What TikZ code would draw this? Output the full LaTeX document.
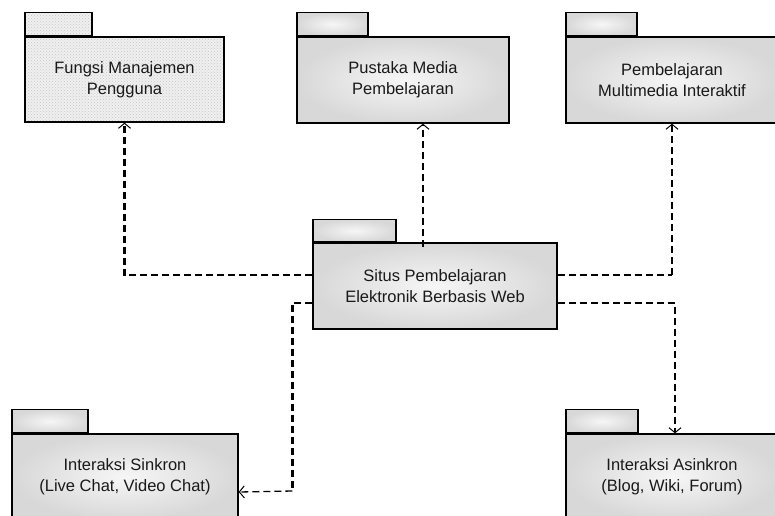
\documentclass[tikz,border=0pt]{standalone}
\usepackage{fontspec}
\setmainfont{Liberation Sans}
\usetikzlibrary{calc,positioning,arrows.meta,patterns,shapes}
\definecolor{pkgedge}{HTML}{d8d8d8}
\definecolor{pkgmid}{HTML}{f6f6f6}

\begin{document}
\begin{tikzpicture}[x=1pt,y=-1pt,
    pkgbase/.style={draw=black,line width=1.3pt,inner sep=0pt,align=center,
        text=black!90,font=\fontsize{16.5}{21}\selectfont},
    pkg/.style={pkgbase,shading=radial,inner color=pkgmid,outer color=pkgedge},
    hatchpkg/.style={pkgbase,preaction={fill=gray!12},
        pattern=crosshatch dots,pattern color=gray!45},
    pkgtab/.style={pkg,anchor=south west,minimum height=23pt},
    hatchtab/.style={hatchpkg,anchor=south west,minimum height=23pt},
    thickdash/.style={line width=2.4pt,dash pattern=on 7pt off 4pt},
    thindash/.style={line width=1.3pt,dash pattern=on 7pt off 4pt},
    tip/.style={-{Straight Barb[length=5pt,width=12pt,line width=1pt]}}]

    \useasboundingbox (0,0) rectangle (775,515);

    % packages
    \node[hatchpkg,minimum width=199pt,minimum height=85pt] (fmp) at (124.5,79.5)
        {Fungsi Manajemen\\Pengguna};
    \node[hatchtab,minimum width=67pt] (fmp-tab) at (fmp.north west) {};

    \node[pkg,minimum width=212pt,minimum height=86pt] (pmp) at (403,80)
        {Pustaka Media\\Pembelajaran};
    \node[pkgtab,minimum width=71pt] (pmp-tab) at (pmp.north west) {};

    \node[pkg,minimum width=212pt,minimum height=86pt] (pmi) at (672,80)
        {Pembelajaran\\Multimedia Interaktif};
    \node[pkgtab,minimum width=71pt] (pmi-tab) at (pmi.north west) {};

    \node[pkg,minimum width=244pt,minimum height=86pt] (sit) at (435,286)
        {Situs Pembelajaran\\Elektronik Berbasis Web};
    \node[pkgtab,minimum width=83pt,minimum height=22pt] (sit-tab) at (sit.north west) {};

    \node[pkg,minimum width=226pt,minimum height=86pt] (isk) at (125,477)
        {Interaksi Sinkron\\(Live Chat, Video Chat)};
    \node[pkgtab,minimum width=76pt] (isk-tab) at (isk.north west) {};

    \node[pkg,minimum width=212pt,minimum height=86pt] (ias) at (672,477)
        {Interaksi Asinkron\\(Blog, Wiki, Forum)};
    \node[pkgtab,minimum width=72pt] (ias-tab) at (ias.north west) {};

    % dependencies
    \draw[thickdash,tip] ([yshift=11pt]sit.west) -| (fmp.south);
    \draw[thindash,tip] ([xshift=-12pt,yshift=-5pt]sit.north) -- ([xshift=-12pt]sit.north |- pmp.south);
    \coordinate (pmi-bend) at ([yshift=11pt]sit.east -| pmi.south);
    \draw[thickdash] ([yshift=11pt]sit.east) -- (pmi-bend);
    \draw[thindash,tip] (pmi-bend) -- (pmi.south);
    \draw[thickdash,tip] ([yshift=-17pt]sit.east) -| ([xshift=3pt]ias.north);
    \coordinate (isk-bend) at ($([yshift=-17pt]sit.west)+(-20,0)$);
    \draw[thickdash] ([yshift=-17pt]sit.west) -- (isk-bend) |- ++(0,188);
    \draw[thindash,tip] ($(isk-bend)+(0,188)$) -- ([yshift=-15pt]isk.east);
\end{tikzpicture}
\end{document}
